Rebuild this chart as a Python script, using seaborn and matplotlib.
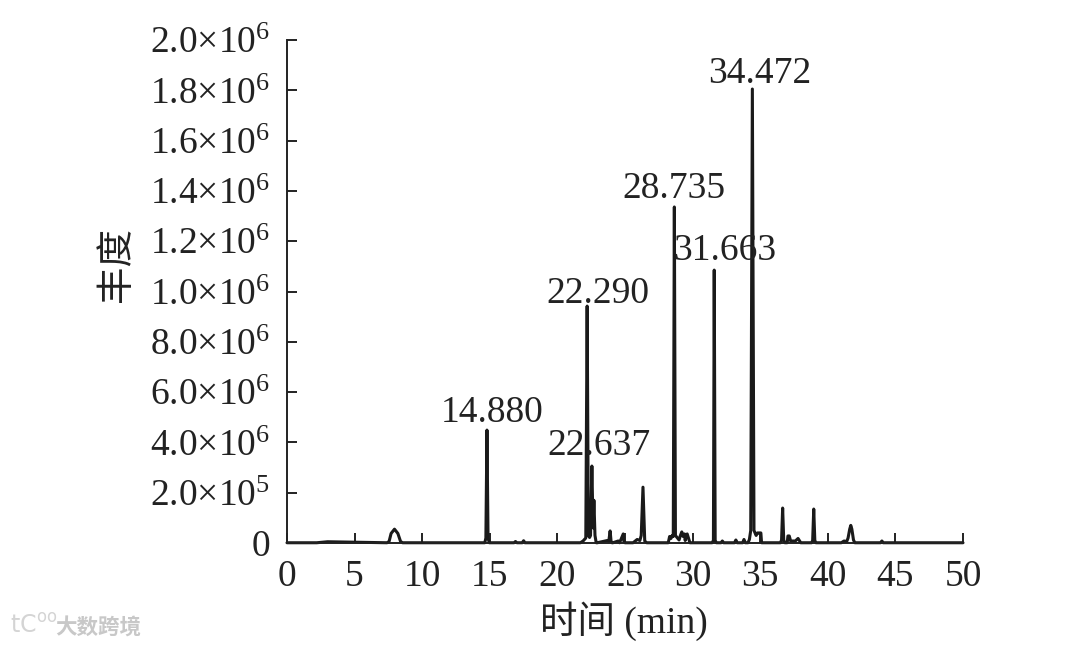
import matplotlib
matplotlib.use("Agg")

import matplotlib.pyplot as plt
import seaborn as sns

sns.set_theme(style="ticks")
plt.rcParams.update({
    "font.family": ["Liberation Serif", "Noto Sans CJK SC"],
    "mathtext.fontset": "custom",
    "mathtext.rm": "Liberation Serif",
    "mathtext.default": "regular",
})

INK = "#222222"

# chromatogram: time (min), abundance
times = [
    0, 2.2, 3.0, 7.4, 7.55, 7.7, 7.95, 8.2, 8.4, 8.55, 14.63, 14.71, 14.79, 14.87, 14.96,
    16.8, 16.9, 17.0, 17.4, 17.5, 17.6, 21.7, 21.9, 22.1, 22.2, 22.29, 22.38, 22.45, 22.55,
    22.637, 22.7, 22.78, 22.87, 22.95, 23.7, 23.8, 23.9, 23.97, 24.04, 24.1, 24.5, 24.6,
    24.87, 24.92, 25.0, 25.6, 25.9, 26.1, 26.2, 26.33, 26.46, 26.6, 28.2, 28.3, 28.4, 28.5,
    28.57, 28.65, 28.73, 29.0, 29.1, 29.2, 29.3, 29.4, 29.45, 29.6, 29.75, 29.8, 30.6, 31.44,
    31.54, 31.6, 31.67, 31.76, 32.1, 32.2, 32.3, 33.1, 33.2, 33.3, 33.7, 33.8, 33.9, 34.1,
    34.2, 34.3, 34.42, 34.54, 34.7, 34.8, 34.85, 35.05, 35.1, 36.5, 36.58, 36.66, 36.74,
    36.82, 37.0, 37.05, 37.15, 37.25, 37.6, 37.8, 38.0, 38.8, 38.88, 38.96, 39.04, 39.12,
    41.0, 41.2, 41.4, 41.5, 41.62, 41.7, 41.78, 41.9, 42.0, 43.9, 44.0, 44.1, 50,
]
abundance = [
    1000, 1000, 5000, 1000, 6000, 38000, 55000, 38000, 6000, 1000, 1000, 20000, 449000, 20000,
    1000, 1000, 6000, 1000, 1000, 9000, 1000, 1000, 8000, 20000, 942000, 30000, 22000, 30000,
    306000, 60000, 170000, 30000, 1000, 1000, 10000, 6000, 48000, 6000, 1000, 1000, 8000, 1000,
    36000, 6000, 1000, 1000, 14000, 10000, 30000, 222000, 8000, 1000, 1000, 26000, 18000, 30000,
    26000, 1336000, 30000, 12000, 30000, 44000, 26000, 36000, 10000, 36000, 10000, 1000, 1000,
    1000, 10000, 1085000, 10000, 1000, 1000, 8000, 1000, 1000, 12000, 1000, 1000, 14000, 1000,
    1000, 14000, 50000, 1805000, 50000, 30000, 40000, 40000, 40000, 1000, 1000, 12000, 139000,
    12000, 1000, 1000, 28000, 28000, 8000, 8000, 18000, 1000, 1000, 10000, 135000, 10000, 1000,
    1000, 8000, 6000, 20000, 55000, 70000, 55000, 12000, 1000, 1000, 8000, 1000, 1000,
]

x_ticks = [0, 5, 10, 15, 20, 25, 30, 35, 40, 45, 50]
y_ticks = [0, 200000, 400000, 600000, 800000, 1000000, 1200000, 1400000, 1600000, 1800000, 2000000]
y_labels = ["0", "2.0×10$^{5}$", "4.0×10$^{6}$", "6.0×10$^{6}$", "8.0×10$^{6}$", "1.0×10$^{6}$",
            "1.2×10$^{6}$", "1.4×10$^{6}$", "1.6×10$^{6}$", "1.8×10$^{6}$", "2.0×10$^{6}$"]

peak_names = ["14.880", "22.290", "22.637", "28.735", "31.663", "34.472"]
peak_label_x = [15.2, 23.0, 23.05, 28.6, 32.4, 35.0]
peak_label_y = [516000, 992000, 387000, 1409000, 1162000, 1867000]

fig = plt.figure(figsize=(10.8, 6.48), dpi=100)
ax = fig.add_axes([287 / 1080, 1 - 543 / 648, 676 / 1080, 503 / 648])

sns.lineplot(x=times, y=abundance, estimator=None, sort=False, color="#1a1a1a",
             linewidth=2.2, ax=ax, clip_on=False)

ax.set_xlim(0, 50)
ax.set_ylim(0, 2000000)
ax.set_xticks(x_ticks)
ax.set_yticks(y_ticks)
ax.set_yticklabels(y_labels)
ax.tick_params(axis="both", direction="in", length=7, width=1.4, labelsize=27, colors=INK)
ax.tick_params(axis="x", pad=12)
ax.tick_params(axis="y", pad=12)
for spine in ["left", "bottom"]:
    ax.spines[spine].set_linewidth(1.4)
    ax.spines[spine].set_color(INK)
sns.despine(ax=ax)

for name, lx, ly in zip(peak_names, peak_label_x, peak_label_y):
    ax.text(lx, ly, name, fontsize=27, color=INK, ha="center", va="center")

fig.text(624 / 1080, 1 - 621 / 648, "时间 (min)", fontsize=27, color=INK, ha="center", va="center")
fig.text(118 / 1080, 1 - 264 / 648, "丰度", fontsize=27, color=INK, ha="center", va="center",
         rotation=90)

# watermark
fig.text(10 / 1080, 1 - 626 / 648, "tC$^{oo}$", fontsize=17, color="#d4d4d4", ha="left", va="center",
         family="DejaVu Sans")
fig.text(55 / 1080, 1 - 628 / 648, "大数跨境", fontsize=15.5, color="#c8c8c8", ha="left", va="center",
         family="Noto Sans CJK SC", weight="bold")

fig.savefig("out.png", dpi=100)
